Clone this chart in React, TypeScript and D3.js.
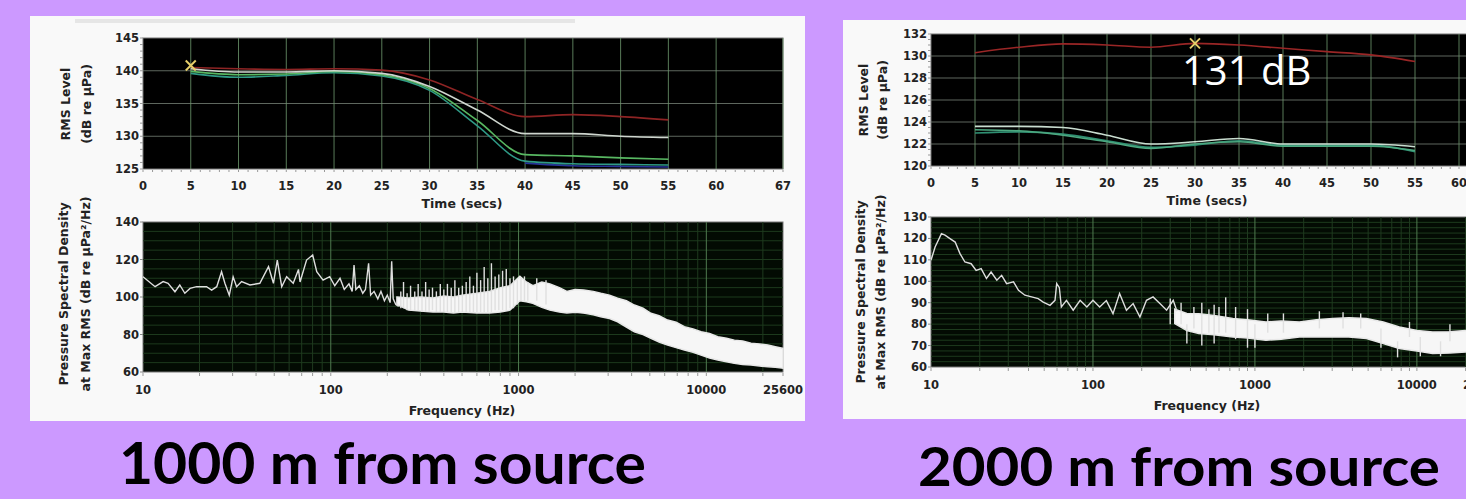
import React from "react";
import * as d3 from "d3";

// ---------- 1000 m from source : RMS level vs time ----------
const timeSecs = [5, 10, 15, 20, 25, 30, 35, 40, 45, 50, 55];
const rms1000Red = [140.5, 140.3, 140.2, 140.3, 140.1, 138.6, 135.6, 133.0, 133.3, 133.0, 132.5];
const rms1000White = [140.3, 139.8, 139.8, 140.0, 139.6, 137.6, 134.0, 130.4, 130.4, 130.0, 129.8];
const rms1000Green = [139.9, 139.4, 139.5, 139.9, 139.4, 137.3, 132.4, 127.2, 127.0, 126.7, 126.5];
const rms1000Teal = [139.6, 139.0, 139.3, 139.7, 139.2, 137.0, 131.6, 126.2, 125.8, 125.7, 125.6];
const blueSecs = [40, 45, 50, 55];
const rms1000Blue = [125.9, 125.5, 125.4, 125.3];
const max1000 = [5, 140.8];

// ---------- 2000 m from source : RMS level vs time ----------
const rms2000Red = [130.3, 130.8, 131.1, 131.0, 130.8, 131.15, 131.0, 130.7, 130.4, 130.1, 129.5];
const rms2000White = [123.6, 123.6, 123.5, 122.8, 122.0, 122.2, 122.5, 122.0, 122.0, 122.0, 121.75];
const rms2000Green = [123.3, 123.2, 122.8, 122.2, 121.6, 122.0, 122.2, 121.8, 121.8, 121.8, 121.4];
const rms2000Teal = [123.0, 123.1, 122.9, 122.3, 121.7, 121.9, 122.3, 121.9, 121.9, 121.9, 121.3];
const max2000 = [30, 131.15];

const timeTicks = [0, 5, 10, 15, 20, 25, 30, 35, 40, 45, 50, 55, 60, 67];
const rmsTicks1000 = [125, 130, 135, 140, 145];
const rmsTicks2000 = [120, 122, 124, 126, 128, 130, 132];

// ---------- spectra ----------
const freqTicks = [10, 100, 1000, 10000, 25600];
const psdTicks1000 = [60, 80, 100, 120, 140];
const psdTicks2000 = [60, 70, 80, 90, 100, 110, 120, 130];

const leftLineFreq = [10, 11.6, 12.8, 13.6, 14.8, 15.7, 16.7, 17.8, 19.3, 21.8, 23.2, 24.7, 26.2, 27.3, 28.8, 30.2, 31.5, 33.5, 37.1, 41.9, 46.6, 49.5, 51.9, 54.8, 58.2, 63.1, 67.3, 68.6, 74.3, 80.1, 84.2, 91, 98.7, 105, 112, 118, 125, 130, 133, 136, 142, 148, 153, 159, 163, 170, 178, 185, 193, 200, 207, 211, 215, 222, 230];
const leftLineDb = [110.8, 105.5, 108.2, 107.3, 102.8, 106.4, 102, 104.6, 105.5, 105.5, 103.7, 105.5, 113.5, 107.3, 101, 110.8, 105.5, 108.2, 106.4, 107.3, 116.2, 107.3, 119.7, 105.5, 110.8, 107.3, 114.7, 108, 119.7, 122.4, 113.5, 109, 110.8, 106, 110, 104, 107, 103, 117, 104, 106, 102, 104, 118, 101, 103, 99, 103, 98, 101, 97, 119, 99, 96, 95];
const leftBandFreq = [225, 260, 300, 350, 400, 450, 500, 600, 700, 800, 900, 1016, 1100, 1192, 1330, 1469, 1650, 1807, 2000, 2219, 2500, 2740, 3050, 3369, 3750, 4137, 4600, 5068, 5600, 6218, 6900, 7638, 8500, 9372, 10400, 11500, 12800, 14100, 15600, 17300, 19200, 21240, 23300, 25600];
const leftBandHigh = [100, 99.5, 100, 99.5, 100.5, 100, 101, 102, 103, 105, 106, 111, 108, 106, 108, 107, 105, 103, 104, 103.7, 103, 102, 101, 99.3, 98, 95.7, 94, 91.3, 90, 87.7, 86.5, 84.2, 83, 81.5, 80.5, 78.8, 78, 77, 76.5, 75.3, 75, 74.4, 73.5, 72.6];
const leftBandLow = [96, 93, 92.5, 92, 92, 91.5, 92, 91.5, 91.5, 92, 93, 98, 97.5, 96.6, 94.5, 93, 92, 91.5, 91.8, 91.4, 90.5, 89.5, 88.5, 86.8, 84, 81.5, 80, 78, 76, 74.4, 73, 71.7, 70.5, 69, 67.5, 66.4, 65.5, 64.6, 64, 63.7, 63.2, 62.8, 62.5, 62];
const leftSpikeFreq = [236, 244, 255, 266, 280, 292, 306, 320, 334, 348, 365, 383, 400, 418, 438, 458, 480, 502, 526, 550, 575, 600, 628, 656, 686, 717, 750, 785, 822, 860, 900, 940, 985, 1030, 1075, 1120, 1250, 1400];
const leftSpikeTop = [103, 108, 102, 106, 103, 107, 103, 108, 104, 105, 103, 107, 104, 107, 105, 109, 105, 106, 108, 111, 106, 113, 109, 116, 110, 118, 111, 112, 114, 115, 110, 111, 109, 110, 111, 108, 110, 109];
const leftSpikeBase = [94, 94, 93, 93, 93, 93, 92, 92, 92, 93, 92, 92, 92, 92, 92, 92, 92, 92, 92, 92, 92, 92, 92, 92, 92, 92, 93, 93, 93, 93, 94, 94, 96, 98, 98, 98, 98, 96];

const rightLineFreq = [10, 10.6, 11.6, 12.2, 13.1, 14.1, 15.1, 16.2, 17.7, 19, 20.4, 22, 23.5, 25.5, 27.3, 29.3, 32.3, 34.7, 38, 41.8, 45.9, 49.3, 54.3, 58.3, 59.7, 62, 63.8, 68.6, 75.5, 83.3, 91.7, 100, 110, 121, 133, 146, 161, 177, 195, 214, 235, 259, 285, 313, 330];
const rightLineDb = [109.8, 116, 122.2, 121.5, 119.9, 118.3, 112.9, 109, 108.2, 105.1, 105.9, 101.3, 104.3, 100.5, 102.8, 98.9, 99.7, 95.8, 93.5, 92.7, 91.9, 90.3, 88.8, 91.1, 98.9, 97, 88, 91.1, 86.5, 91.1, 88, 91.1, 88, 91, 84.9, 94.3, 86.5, 89.6, 83.3, 91.1, 92.7, 89.6, 86.5, 91.1, 86];
const rightBandFreq = [320, 380, 450, 560, 730, 900, 1170, 1450, 1880, 2400, 3030, 3800, 4880, 6200, 7800, 10000, 12500, 16000, 20000, 25600];
const rightBandHigh = [87, 85, 84.9, 84, 82.6, 82, 81, 81.5, 81, 82, 82.6, 83, 82.6, 81, 78.7, 77, 76.3, 76.5, 77, 76.5];
const rightBandLow = [80.3, 77, 75.6, 75, 74, 73.5, 72.5, 73, 74, 74, 74, 74, 73.3, 71, 68.6, 67.5, 66.3, 66.5, 67, 67];
const rightSpikeFreq = [300, 350, 380, 420, 470, 520, 560, 600, 660, 760, 900, 1000, 1200, 1500, 2500, 3500, 4500, 6000, 7600, 9000, 10500, 14000, 16000];
const rightSpikeTop = [92, 90, 80, 88, 90, 87, 89, 88, 92.5, 88, 87, 80, 85, 85, 86, 85.5, 85, 78, 72, 81, 74, 72, 80];
const rightSpikeBase = [80, 80, 71, 78, 70, 76, 71, 76, 76, 73, 69, 69, 76, 76, 78, 78, 78, 69, 64.5, 74, 65, 65, 72];

const FONT = "'DejaVu Sans', Verdana, sans-serif";

const zip = (a: number[], b: number[]) => a.map((v, i) => [v, b[i]] as [number, number]);

function RmsPlot({ box, yDomain, yTicks, yMinor, series, marker, titleX }: any) {
  const x = d3.scaleLinear().domain([0, 67]).range([box.left, box.right]);
  const y = d3.scaleLinear().domain(yDomain).range([box.bottom, box.top]);
  const line = d3.line<[number, number]>().x(d => x(d[0])).y(d => y(d[1])).curve(d3.curveMonotoneX);
  const minorY = d3.range(yDomain[0], yDomain[1] + 0.001, yMinor);
  return (
    <g>
      <rect x={box.left} y={box.top} width={box.right - box.left} height={box.bottom - box.top} fill="#000" stroke="#777" />
      {yTicks.slice(1, -1).map((t: number) => (
        <line key={"h" + t} x1={box.left} x2={box.right} y1={y(t)} y2={y(t)} stroke="#7d8a7d" strokeOpacity={0.75} />
      ))}
      {timeTicks.slice(1).map(t => (
        <line key={"v" + t} x1={x(t)} x2={x(t)} y1={box.top} y2={box.bottom} stroke="#6f9a6f" strokeOpacity={0.8} />
      ))}
      {series.map((s: any, i: number) => (
        <path key={i} d={line(zip(s.t, s.v)) || ""} fill="none" stroke={s.color} strokeWidth={1.6} />
      ))}
      <g stroke="#e6cf6a" strokeWidth={2}>
        <line x1={x(marker[0]) - 5} x2={x(marker[0]) + 5} y1={y(marker[1]) - 5} y2={y(marker[1]) + 5} />
        <line x1={x(marker[0]) - 5} x2={x(marker[0]) + 5} y1={y(marker[1]) + 5} y2={y(marker[1]) - 5} />
      </g>
      {d3.range(0, 68).map(t => (
        <line key={"mx" + t} x1={x(t)} x2={x(t)} y1={box.bottom + 1} y2={box.bottom + 3} stroke="#999" />
      ))}
      {minorY.map(v => (
        <line key={"my" + v} x1={box.left - 3} x2={box.left} y1={y(v)} y2={y(v)} stroke="#999" />
      ))}
      {yTicks.map((t: number) => (
        <text key={"yl" + t} x={box.left - 4} y={y(t) + 4} textAnchor="end" fontFamily={FONT} fontWeight="bold" fontSize={11.5} fill="#222">{t}</text>
      ))}
      {timeTicks.map(t => (
        <text key={"xl" + t} x={x(t)} y={box.bottom + 21} textAnchor="middle" fontFamily={FONT} fontWeight="bold" fontSize={11.5} fill="#222">{t}</text>
      ))}
      <text x={titleX} y={box.bottom + 39} textAnchor="middle" fontFamily={FONT} fontWeight="bold" fontSize={12.5} fill="#222">Time (secs)</text>
    </g>
  );
}

function PsdPlot({ box, yDomain, yTicks, yGridStep, lineF, lineV, bandF, bandHi, bandLo, spikeF, spikeTop, spikeBase, titleX }: any) {
  const x = d3.scaleLog().domain([10, 25600]).range([box.left, box.right]);
  const y = d3.scaleLinear().domain(yDomain).range([box.bottom, box.top]);
  const line = d3.line<[number, number]>().x(d => x(d[0])).y(d => y(d[1]));
  const area = d3.area<number>()
    .x((_, i) => x(bandF[i]))
    .y0((_, i) => y(bandLo[i]))
    .y1((_, i) => y(bandHi[i]));
  const minorX = x.ticks().filter(f => f > 10 && f < 25600);
  const gridY = d3.range(yDomain[0] + yGridStep, yDomain[1], yGridStep);
  return (
    <g>
      <rect x={box.left} y={box.top} width={box.right - box.left} height={box.bottom - box.top} fill="#030b03" stroke="#777" />
      {gridY.map(v => (
        <line key={"h" + v} x1={box.left} x2={box.right} y1={y(v)} y2={y(v)} stroke="#1d3a1d" />
      ))}
      {minorX.map(f => {
        const major = [100, 1000, 10000].includes(f);
        return <line key={"v" + f} x1={x(f)} x2={x(f)} y1={box.top} y2={box.bottom} stroke={major ? "#4f7a4f" : "#1f3a1f"} />;
      })}
      <path d={area(bandF) || ""} fill="#f6f6f6" stroke="#e8e8e8" strokeWidth={1.5} />
      {spikeF.map((f: number, i: number) => (
        <line key={"s" + i} x1={x(f)} x2={x(f)} y1={y(spikeTop[i])} y2={y(spikeBase[i])} stroke="#e0e0e0" strokeWidth={1.4} />
      ))}
      <path d={line(zip(lineF, lineV)) || ""} fill="none" stroke="#dedede" strokeWidth={1.4} />
      {minorX.concat([10, 25600]).map(f => (
        <line key={"mx" + f} x1={x(f)} x2={x(f)} y1={box.bottom + 1} y2={box.bottom + 4} stroke="#999" />
      ))}
      {yTicks.map((t: number) => (
        <g key={"yl" + t}>
          <line x1={box.left - 3} x2={box.left} y1={y(t)} y2={y(t)} stroke="#888" />
          <text x={box.left - 4} y={y(t) + 4} textAnchor="end" fontFamily={FONT} fontWeight="bold" fontSize={11.5} fill="#222">{t}</text>
        </g>
      ))}
      {freqTicks.map(f => (
        <text key={"xl" + f} x={x(f)} y={box.bottom + 22} textAnchor="middle" fontFamily={FONT} fontWeight="bold" fontSize={11.5} fill="#222">{f}</text>
      ))}
      <text x={titleX} y={box.bottom + 43} textAnchor="middle" fontFamily={FONT} fontWeight="bold" fontSize={12.5} fill="#222">Frequency (Hz)</text>
    </g>
  );
}

function YTitle({ x, y, lines }: { x: number[]; y: number; lines: string[] }) {
  return (
    <g>
      {lines.map((l, i) => (
        <text key={i} transform={`translate(${x[i]},${y}) rotate(-90)`} textAnchor="middle" fontFamily={FONT} fontWeight="bold" fontSize={12.5} fill="#222">{l}</text>
      ))}
    </g>
  );
}

export default function App() {
  const lt = { left: 143, right: 783, top: 38, bottom: 169 };
  const lb = { left: 143, right: 783, top: 222, bottom: 372 };
  const rt = { left: 931, right: 931 + 67 * 8.8, top: 34, bottom: 166 };
  const rb = { left: 931, right: 1483, top: 217, bottom: 367 };
  return (
    <svg width={1466} height={499} style={{ position: "absolute", left: 0, top: 0, display: "block" }}>
      <rect width={1466} height={499} fill="#cc99ff" />
      <rect x={30} y={16} width={775} height={405} fill="#f9f9f9" />
      <rect x={75} y={19} width={500} height={4} fill="#e6e6e6" />
      <rect x={843} y={20} width={623} height={399} fill="#f9f9f9" />

      <RmsPlot
        box={lt}
        yDomain={[125, 145]}
        yTicks={rmsTicks1000}
        yMinor={1}
        titleX={462}
        marker={max1000}
        series={[
          { t: timeSecs, v: rms1000Red, color: "#8e2424" },
          { t: blueSecs, v: rms1000Blue, color: "#27339a" },
          { t: timeSecs, v: rms1000Teal, color: "#2f9a86" },
          { t: timeSecs, v: rms1000Green, color: "#58b862" },
          { t: timeSecs, v: rms1000White, color: "#cfd6cf" },
        ]}
      />
      <YTitle x={[70, 91]} y={104} lines={["RMS Level", "(dB re μPa)"]} />
      <PsdPlot
        box={lb}
        yDomain={[60, 140]}
        yTicks={psdTicks1000}
        yGridStep={5}
        titleX={462}
        lineF={leftLineFreq}
        lineV={leftLineDb}
        bandF={leftBandFreq}
        bandHi={leftBandHigh}
        bandLo={leftBandLow}
        spikeF={leftSpikeFreq}
        spikeTop={leftSpikeTop}
        spikeBase={leftSpikeBase}
      />
      <YTitle x={[68, 90]} y={294} lines={["Pressure Spectral Density", "at Max RMS (dB re μPa²/Hz)"]} />

      <RmsPlot
        box={rt}
        yDomain={[120, 132]}
        yTicks={rmsTicks2000}
        yMinor={0.5}
        titleX={1207}
        marker={max2000}
        series={[
          { t: timeSecs, v: rms2000Red, color: "#9a2626" },
          { t: timeSecs, v: rms2000Teal, color: "#2f8f72" },
          { t: timeSecs, v: rms2000Green, color: "#4da880" },
          { t: timeSecs, v: rms2000White, color: "#c9ddd0" },
        ]}
      />
      <text x={1182} y={85} fontFamily="'Open Sans', sans-serif" fontSize={40} fill="#fff">131 dB</text>
      <YTitle x={[868, 887]} y={100} lines={["RMS Level", "(dB re μPa)"]} />
      <PsdPlot
        box={rb}
        yDomain={[60, 130]}
        yTicks={psdTicks2000}
        yGridStep={2.5}
        titleX={1207}
        lineF={rightLineFreq}
        lineV={rightLineDb}
        bandF={rightBandFreq}
        bandHi={rightBandHigh}
        bandLo={rightBandLow}
        spikeF={rightSpikeFreq}
        spikeTop={rightSpikeTop}
        spikeBase={rightSpikeBase}
      />
      <YTitle x={[865, 885]} y={292} lines={["Pressure Spectral Density", "at Max RMS (dB re μPa²/Hz)"]} />

      <text x={119} y={484} fontFamily="Lato, 'Open Sans', sans-serif" fontWeight="bold" fontSize={58} textLength={527} lengthAdjust="spacingAndGlyphs" fill="#000">1000 m from source</text>
      <text x={918} y={486} fontFamily="Lato, 'Open Sans', sans-serif" fontWeight="bold" fontSize={54} textLength={522} lengthAdjust="spacingAndGlyphs" fill="#000">2000 m from source</text>
    </svg>
  );
}
